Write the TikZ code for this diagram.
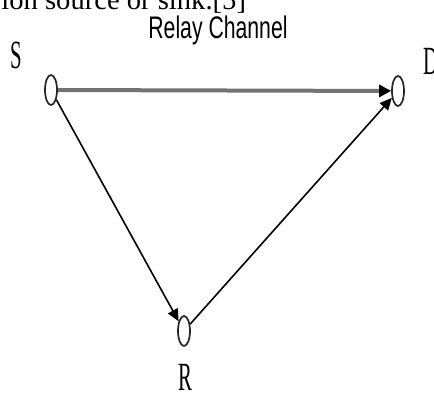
\documentclass[tikz,border=0pt]{standalone}
\usepackage{fontspec}
\setmainfont{Liberation Serif}
\newfontfamily\titlefont{Liberation Sans}
\usetikzlibrary{shapes.geometric,arrows.meta,positioning}

\begin{document}
\begin{tikzpicture}[x=0.5pt,y=-0.5pt,
  station/.style={ellipse,draw=black!85,line width=0.85pt,fill=white,
    minimum width=6pt,minimum height=15pt,inner sep=0pt},
  lbl/.style={font=\fontsize{20}{20}\selectfont,inner sep=0pt},
  link/.style={line width=0.8pt,-{Triangle[length=6pt,width=5.5pt]}}]
\useasboundingbox (0,0) rectangle (434,394);
\clip (0,0) rectangle (434,394);

% cut-off line of the surrounding page
\node[anchor=base west,inner sep=0pt,font=\fontsize{14.3}{15}\selectfont] (caption) at (1,10) {ion source or sink.[5]};

\node[anchor=base,inner sep=0pt,font=\titlefont\fontsize{15.6}{16}\selectfont] (title) at (218,39) {\scalebox{0.68}[1]{Relay Channel}};

\foreach \name/\pos/\lpos in {S/{(51,90)}/{(16,55)}, D/{(398,91)}/{(431,61)}, R/{(184,331)}/{(185,377)}} {
    \node[station] (\name) at \pos {};
    \node[lbl] (\name-lbl) at \lpos {\scalebox{0.52}[1]{\name}};
}

\draw[line width=2pt,draw=black!55,-{Triangle[length=6pt,width=6pt,color=black]}] (S) -- (D);
\draw[link] (S) -- (R);
\draw[link] (R) -- (D);
\end{tikzpicture}
\end{document}
